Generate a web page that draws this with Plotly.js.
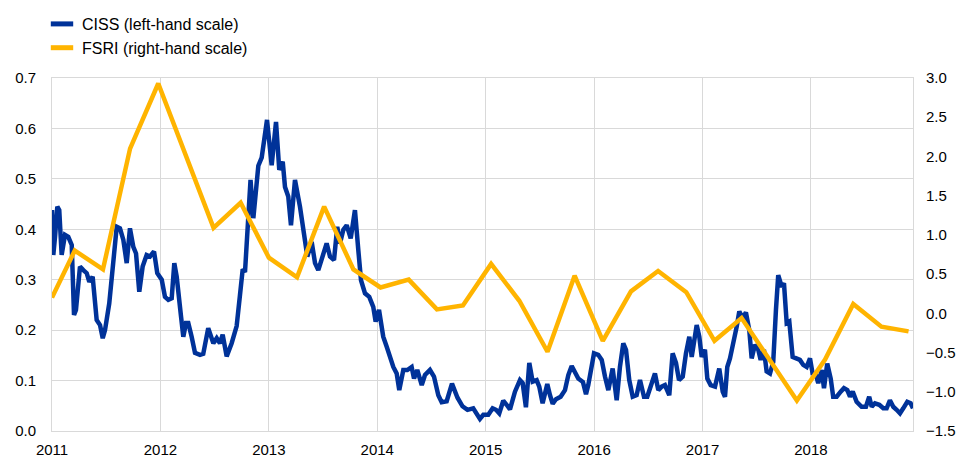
<!DOCTYPE html>
<html>
<head>
<meta charset="utf-8">
<script src="https://cdn.plot.ly/plotly-3.0.1.min.js"></script>
<style>html,body{margin:0;padding:0;background:#fff;}#chart{width:957px;height:457px;}</style>
</head>
<body>
<div id="chart"></div>
<script>
// CISS, weekly (decimal years), left-hand scale
var cissYears = [2011.000,2011.012,2011.028,2011.049,2011.067,2011.089,2011.120,2011.150,2011.182,2011.203,2011.221,2011.258,2011.289,2011.320,2011.344,2011.375,2011.412,2011.443,2011.468,2011.489,2011.528,2011.565,2011.597,2011.627,2011.658,2011.689,2011.719,2011.750,2011.775,2011.805,2011.836,2011.873,2011.904,2011.941,2011.971,2012.012,2012.042,2012.073,2012.104,2012.128,2012.150,2012.190,2012.211,2012.236,2012.257,2012.288,2012.319,2012.365,2012.395,2012.441,2012.488,2012.519,2012.549,2012.574,2012.611,2012.657,2012.703,2012.734,2012.759,2012.780,2012.801,2012.831,2012.857,2012.903,2012.934,2012.983,2013.026,2013.066,2013.096,2013.128,2013.149,2013.179,2013.204,2013.241,2013.287,2013.318,2013.355,2013.395,2013.426,2013.456,2013.497,2013.533,2013.564,2013.601,2013.631,2013.656,2013.687,2013.718,2013.755,2013.794,2013.825,2013.850,2013.887,2013.926,2013.963,2013.985,2014.016,2014.055,2014.087,2014.117,2014.148,2014.179,2014.203,2014.240,2014.277,2014.317,2014.339,2014.369,2014.410,2014.440,2014.486,2014.523,2014.563,2014.594,2014.640,2014.689,2014.740,2014.786,2014.832,2014.885,2014.917,2014.947,2014.978,2015.024,2015.064,2015.095,2015.125,2015.162,2015.193,2015.224,2015.270,2015.316,2015.341,2015.371,2015.402,2015.433,2015.470,2015.494,2015.525,2015.568,2015.593,2015.618,2015.648,2015.691,2015.731,2015.762,2015.793,2015.823,2015.854,2015.897,2015.925,2015.946,2015.977,2015.999,2016.038,2016.070,2016.100,2016.131,2016.171,2016.208,2016.238,2016.269,2016.294,2016.324,2016.356,2016.392,2016.423,2016.460,2016.490,2016.531,2016.561,2016.592,2016.623,2016.653,2016.693,2016.724,2016.755,2016.783,2016.817,2016.847,2016.878,2016.900,2016.921,2016.946,2016.970,2016.992,2017.022,2017.044,2017.075,2017.115,2017.154,2017.186,2017.207,2017.228,2017.253,2017.283,2017.315,2017.339,2017.370,2017.400,2017.431,2017.453,2017.483,2017.514,2017.536,2017.566,2017.591,2017.622,2017.652,2017.677,2017.698,2017.730,2017.751,2017.776,2017.800,2017.831,2017.862,2017.898,2017.929,2017.960,2017.991,2018.015,2018.046,2018.067,2018.099,2018.120,2018.150,2018.182,2018.205,2018.237,2018.274,2018.304,2018.335,2018.360,2018.385,2018.421,2018.467,2018.507,2018.537,2018.560,2018.590,2018.630,2018.667,2018.698,2018.728,2018.759,2018.790,2018.821,2018.851,2018.888,2018.919,2018.941];
var cissValues = [0.438,0.349,0.385,0.445,0.438,0.349,0.389,0.385,0.369,0.230,0.240,0.326,0.319,0.313,0.296,0.306,0.220,0.210,0.184,0.200,0.253,0.346,0.405,0.402,0.379,0.333,0.402,0.365,0.352,0.276,0.326,0.349,0.346,0.356,0.313,0.300,0.266,0.260,0.263,0.333,0.306,0.227,0.187,0.214,0.214,0.187,0.155,0.151,0.153,0.204,0.174,0.184,0.174,0.191,0.148,0.174,0.208,0.270,0.321,0.315,0.400,0.498,0.422,0.526,0.542,0.617,0.527,0.613,0.518,0.534,0.484,0.465,0.408,0.498,0.445,0.405,0.346,0.375,0.333,0.319,0.346,0.372,0.346,0.339,0.405,0.372,0.399,0.408,0.382,0.438,0.359,0.299,0.273,0.266,0.246,0.217,0.240,0.187,0.167,0.147,0.127,0.114,0.081,0.121,0.121,0.127,0.104,0.121,0.091,0.111,0.121,0.108,0.071,0.057,0.059,0.094,0.066,0.049,0.042,0.045,0.034,0.024,0.032,0.032,0.045,0.042,0.035,0.060,0.052,0.043,0.078,0.101,0.095,0.047,0.135,0.098,0.101,0.088,0.055,0.093,0.071,0.054,0.063,0.068,0.081,0.111,0.129,0.114,0.104,0.097,0.073,0.091,0.134,0.154,0.151,0.141,0.108,0.081,0.124,0.061,0.127,0.174,0.161,0.101,0.068,0.071,0.101,0.068,0.068,0.091,0.114,0.081,0.088,0.091,0.071,0.154,0.135,0.101,0.108,0.154,0.187,0.147,0.180,0.210,0.187,0.147,0.161,0.104,0.091,0.088,0.124,0.078,0.068,0.127,0.144,0.171,0.207,0.237,0.224,0.235,0.200,0.144,0.171,0.161,0.141,0.161,0.118,0.114,0.137,0.240,0.309,0.286,0.293,0.214,0.217,0.147,0.144,0.141,0.131,0.127,0.144,0.114,0.111,0.095,0.121,0.085,0.134,0.104,0.068,0.068,0.078,0.085,0.081,0.068,0.078,0.058,0.048,0.048,0.068,0.048,0.055,0.052,0.045,0.045,0.061,0.048,0.042,0.035,0.045,0.058,0.055,0.045];

// FSRI, quarterly (decimal years), right-hand scale
var fsriYears = [2011.00,2011.21,2011.47,2011.72,2011.98,2012.24,2012.49,2012.74,2013.00,2013.26,2013.51,2013.78,2014.03,2014.29,2014.55,2014.79,2015.05,2015.31,2015.57,2015.82,2016.08,2016.34,2016.59,2016.85,2017.11,2017.36,2017.62,2017.87,2018.13,2018.39,2018.65,2018.90];
var fsriValues = [0.20,0.80,0.56,2.10,2.93,2.00,1.09,1.41,0.71,0.46,1.36,0.56,0.33,0.43,0.05,0.10,0.63,0.16,-0.49,0.48,-0.35,0.28,0.54,0.27,-0.35,-0.06,-0.60,-1.11,-0.59,0.12,-0.17,-0.23];

var yearTicks = [2011,2012,2013,2014,2015,2016,2017,2018];
var yearLabels = ["2011","2012","2013","2014","2015","2016","2017","2018"];
var seriesNames = ["CISS (left-hand scale)", "FSRI (right-hand scale)"];

var blue = "#003299", yellow = "#FFB400";
var font = "Arial, 'Liberation Sans', sans-serif";

var traces = [
  {x: cissYears, y: cissValues, type: "scatter", mode: "lines", line: {color: blue, width: 4.5}, showlegend: false, hoverinfo: "skip", xaxis: "x", yaxis: "y"},
  {x: fsriYears, y: fsriValues, type: "scatter", mode: "lines", line: {color: yellow, width: 4.5}, showlegend: false, hoverinfo: "skip", xaxis: "x", yaxis: "y2"},
  {x: [null], y: [null], type: "scatter", mode: "markers", name: seriesNames[0], marker: {symbol: "line-ew", size: 16, color: blue, line: {color: blue, width: 5}}, xaxis: "x", yaxis: "y"},
  {x: [null], y: [null], type: "scatter", mode: "markers", name: seriesNames[1], marker: {symbol: "line-ew", size: 16, color: yellow, line: {color: yellow, width: 5}}, xaxis: "x", yaxis: "y"}
];

var grid = "#d9d9d9";
var layout = {
  width: 957, height: 457,
  margin: {l: 52, r: 44, t: 78, b: 26, pad: 0, autoexpand: false},
  paper_bgcolor: "#fff", plot_bgcolor: "#fff",
  font: {family: font, size: 15, color: "#000"},
  showlegend: true,
  legend: {x: 42/957, y: 1 - 7/457, xref: "container", yref: "container", xanchor: "left", yanchor: "top",
           font: {family: font, size: 16, color: "#000"}, bgcolor: "rgba(0,0,0,0)", tracegroupgap: 0, itemwidth: 30},
  xaxis: {type: "linear", range: [2011, 2018.941], tickvals: yearTicks, ticktext: yearLabels,
          showgrid: true, gridcolor: grid, gridwidth: 1, zeroline: false,
          showline: true, linecolor: grid, linewidth: 1, mirror: true, ticks: "", ticklabelstandoff: 5,
          tickfont: {family: font, size: 15, color: "#000"}},
  yaxis: {range: [0, 0.7], dtick: 0.1, tick0: 0, tickformat: ".1f", showgrid: true, gridcolor: grid, gridwidth: 1,
          zeroline: false, showline: true, linecolor: grid, linewidth: 1, mirror: true, ticks: "", ticklabelstandoff: 12,
          tickfont: {family: font, size: 15, color: "#000"}},
  yaxis2: {range: [-1.5, 3.0], dtick: 0.5, tick0: -1.5, tickformat: ".1f", overlaying: "y", side: "right",
           showgrid: false, zeroline: false, ticks: "", ticklabelstandoff: 12,
           tickfont: {family: font, size: 15, color: "#000"}}
};

Plotly.newPlot("chart", traces, layout, {staticPlot: true, displayModeBar: false});
</script>
</body>
</html>
